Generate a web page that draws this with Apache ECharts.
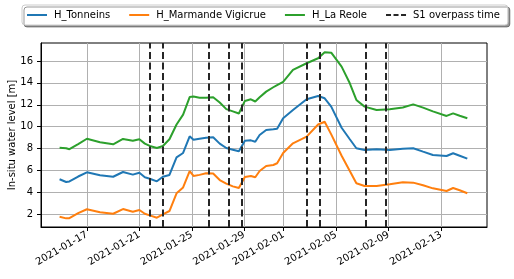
<!DOCTYPE html>
<html>
<head>
<meta charset="utf-8">
<script src="https://cdn.jsdelivr.net/npm/echarts@6/dist/echarts.min.js"></script>
<style>html,body{margin:0;padding:0;background:#fff}#c{width:514px;height:279px}</style>
</head>
<body>
<div id="c"></div>
<script>
const times = ['2021-01-14 22:00','2021-01-15 10:00','2021-01-15 16:00','2021-01-16 08:00','2021-01-17 00:00','2021-01-18 00:00','2021-01-19 00:00','2021-01-19 18:00','2021-01-20 12:00','2021-01-21 00:00','2021-01-21 10:00','2021-01-21 19:00','2021-01-22 08:00','2021-01-22 19:00','2021-01-23 07:00','2021-01-23 20:00','2021-01-24 08:00','2021-01-24 20:00','2021-01-25 03:00','2021-01-25 14:00','2021-01-26 02:00','2021-01-26 15:00','2021-01-27 03:00','2021-01-27 15:00','2021-01-28 03:00','2021-01-28 14:00','2021-01-29 01:00','2021-01-29 12:00','2021-01-29 20:00','2021-01-30 04:00','2021-01-30 16:00','2021-01-31 05:00','2021-01-31 12:00','2021-01-31 23:00','2021-02-01 17:00','2021-02-02 18:00','2021-02-03 15:00','2021-02-04 03:00','2021-02-04 15:00','2021-02-05 10:00','2021-02-06 01:00','2021-02-06 13:00','2021-02-07 04:00','2021-02-08 02:00','2021-02-09 02:00','2021-02-10 02:00','2021-02-10 21:00','2021-02-11 15:00','2021-02-12 09:00','2021-02-13 10:00','2021-02-13 22:00','2021-02-14 10:00','2021-02-15 00:00'];
const hTonneins = [5.2,4.95,5.0,5.45,5.83,5.56,5.43,5.86,5.62,5.8,5.38,5.25,5.01,5.43,5.59,7.2,7.6,9.12,8.8,8.9,8.98,9.03,8.45,8.05,7.9,7.75,8.72,8.75,8.63,9.24,9.7,9.76,9.8,10.77,11.52,12.5,12.8,12.59,11.83,9.9,8.85,8.03,7.87,7.94,7.87,7.99,8.03,7.72,7.42,7.32,7.57,7.35,7.08];
const hMarmande = [1.78,1.63,1.65,2.1,2.46,2.18,2.05,2.48,2.24,2.39,2.05,1.9,1.69,2.0,2.3,3.92,4.45,5.95,5.5,5.6,5.74,5.72,5.13,4.8,4.55,4.4,5.4,5.5,5.38,5.95,6.41,6.5,6.66,7.6,8.48,9.09,10.2,10.45,9.3,7.35,5.95,4.83,4.58,4.58,4.74,4.92,4.89,4.65,4.37,4.13,4.4,4.2,3.92];
const hLaReole = [8.08,8.03,7.94,8.4,8.9,8.57,8.39,8.88,8.72,8.85,8.45,8.24,8.05,8.24,8.85,10.2,11.1,12.7,12.75,12.65,12.65,12.68,12.2,11.6,11.4,11.2,12.35,12.5,12.3,12.68,13.2,13.6,13.8,14.1,15.18,15.79,16.25,16.8,16.76,15.48,13.96,12.44,11.83,11.52,11.6,11.75,12.04,11.74,11.4,10.98,11.22,11.0,10.77];
const overpassTimes = ['2021-01-21 18:15','2021-01-22 18:30','2021-01-26 06:45','2021-01-27 19:30','2021-01-28 19:10','2021-02-02 17:30','2021-02-03 18:00','2021-02-07 06:15','2021-02-08 18:45'];
const xTickLabels = ['2021-01-17','2021-01-21','2021-01-25','2021-01-29','2021-02-01','2021-02-05','2021-02-09','2021-02-13'];
const yTicks = [2,4,6,8,10,12,14,16];

function ts(s){
  const parts = s.split(' ');
  const d = parts[0].split('-').map(Number);
  const t = (parts[1] || '00:00').split(':').map(Number);
  return new Date(d[0], d[1]-1, d[2], t[0], t[1]).getTime();
}
const xTickVals = xTickLabels.map(ts);
function pad(n){return (n<10?'0':'')+n;}
function fmt(v){const d=new Date(v);return d.getFullYear()+'-'+pad(d.getMonth()+1)+'-'+pad(d.getDate());}

const font = 'DejaVu Sans';
const chart = echarts.init(document.getElementById('c'), null, {renderer:'canvas'});
function mk(name, vals, color){
  return {name:name, type:'line', symbol:'none', showSymbol:false, data: times.map((t,i)=>[ts(t), vals[i]]),
    lineStyle:{color:color, width:2}, itemStyle:{color:color}, z:3};
}
chart.setOption({
  animation:false,
  textStyle:{fontFamily:font},
  grid:{left:41, right:27, top:43, bottom:52, show:true, borderColor:'#000', borderWidth:1, backgroundColor:'transparent', containLabel:false, outerBoundsMode:'none'},
  legend:{
    left:22, top:5, width:490, padding:[5,8,5,4], itemGap:18, itemWidth:20, itemHeight:12,
    backgroundColor:'#fff', borderColor:'#cccccc', borderWidth:1, borderRadius:3,
    shadowColor:'rgba(0,0,0,0.4)', shadowOffsetX:2, shadowOffsetY:2, shadowBlur:0,
    itemStyle:{opacity:0},
    textStyle:{fontFamily:font, fontSize:10, color:'#000', padding:[0,0,0,2]},
    data:['H_Tonneins','H_Marmande Vigicrue','H_La Reole','S1 overpass time']
  },
  xAxis:{
    type:'value', min:ts('2021-01-13 12:00'), max:ts('2021-02-16 12:00'),
    axisLine:{show:true, lineStyle:{color:'#000', width:1}},
    axisTick:{show:true, inside:false, length:4, lineStyle:{color:'#000'}, customValues:xTickVals},
    axisLabel:{show:true, rotate:30, margin:7, fontSize:10, color:'#000', fontFamily:font, customValues:xTickVals, formatter:function(v){return fmt(v);}, hideOverlap:false},
    splitLine:{show:true, lineStyle:{color:'#b0b0b0', width:1}}
  },
  yAxis:{
    type:'value', min:0.84, max:17.64,
    name:'In-situ water level [m]', nameLocation:'middle', nameGap:24, nameRotate:90, nameMoveOverlap:false,
    nameTextStyle:{fontFamily:font, fontSize:10, color:'#000'},
    axisLine:{show:true, lineStyle:{color:'#000', width:1}},
    axisTick:{show:true, inside:false, length:4, lineStyle:{color:'#000'}, customValues:yTicks},
    axisLabel:{show:true, margin:8, fontSize:10, color:'#000', fontFamily:font, customValues:yTicks},
    splitLine:{show:true, lineStyle:{color:'#b0b0b0', width:1}}
  },
  series:[
    mk('H_Tonneins', hTonneins, '#1f77b4'),
    mk('H_Marmande Vigicrue', hMarmande, '#ff7f0e'),
    mk('H_La Reole', hLaReole, '#2ca02c'),
    {name:'S1 overpass time', type:'line', symbol:'none', data:[],
     lineStyle:{color:'#262626', width:2, type:[5,2.5]}, itemStyle:{color:'#262626'},
     markLine:{silent:true, symbol:['none','none'], label:{show:false}, animation:false,
       lineStyle:{color:'#262626', width:2, type:[7,3.5]},
       data: overpassTimes.map(t=>({xAxis: ts(t)}))}, z:4}
  ]
});
</script>
</body>
</html>
